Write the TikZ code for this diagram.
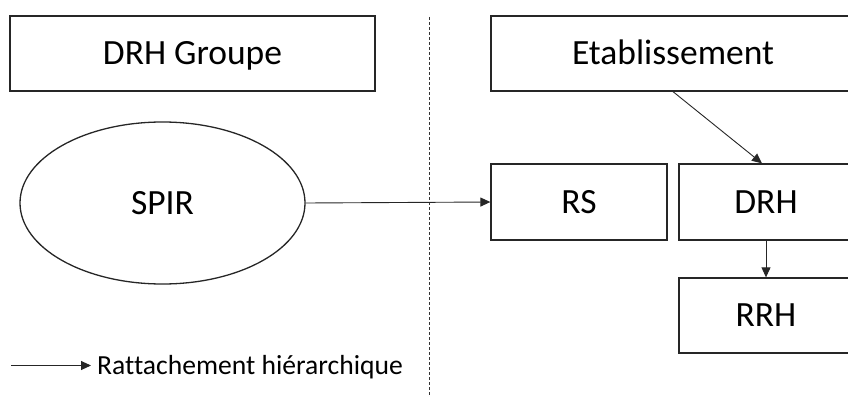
\documentclass[tikz,border=0pt]{standalone}
\usepackage{fontspec}
\setmainfont[Ligatures=CommonOff]{Carlito}
\usetikzlibrary{arrows.meta,shapes.geometric}
\begin{document}
\begin{tikzpicture}[x=1pt,y=-1pt,
  box/.style={draw=black!85,line width=1.3pt,rectangle,inner sep=0pt,font=\fontsize{35.5}{40}\selectfont,text height=22.9pt,text depth=0pt},
  oval/.style={draw=black!85,line width=1.3pt,ellipse,inner sep=0pt,font=\fontsize{35.5}{40}\selectfont,text height=22.9pt,text depth=0pt},
  arr/.style={draw=black!85,line width=0.9pt,-{Triangle[length=10pt,width=9pt]}},
  sep/.style={draw=black!80,line width=0.9pt,dash pattern=on 3pt off 2pt}]
\useasboundingbox (0,0) rectangle (848,396);
\clip (0,0) rectangle (848,396);
\node[box,minimum width=365pt,minimum height=75pt] (drhg) at (192.5,53.5) {DRH Groupe};
\node[box,minimum width=364pt,minimum height=75pt] (etab) at (673,53.5) {Etablissement};
\node[oval,minimum width=285pt,minimum height=162pt] (spir) at (162.5,203) {SPIR};
\node[box,minimum width=176pt,minimum height=76pt] (rs) at (579,202) {RS};
\node[box,minimum width=174pt,minimum height=76pt] (drh) at (766,202) {DRH};
\node[box,minimum width=174pt,minimum height=75pt] (rrh) at (766,315.5) {RRH};
\coordinate (s1) at (429,17);
\coordinate (s2) at (429,396);
\draw[sep] (s1) -- (s2);
\draw[arr] (etab.south) -- ([xshift=-4pt]drh.north);
\draw[arr] (spir.east) -- (rs.west);
\draw[arr] (drh.south) -- (rrh.north);
\coordinate (l1) at (11,365.5);
\coordinate (l2) at (91,365.5);
\draw[arr] (l1) -- (l2);
\node[anchor=west,inner sep=0pt,font=\fontsize{27.6}{31}\selectfont,text height=17.8pt,text depth=0pt] (leg) at (97,365.5) {Rattachement hiérarchique};
\end{tikzpicture}
\end{document}
